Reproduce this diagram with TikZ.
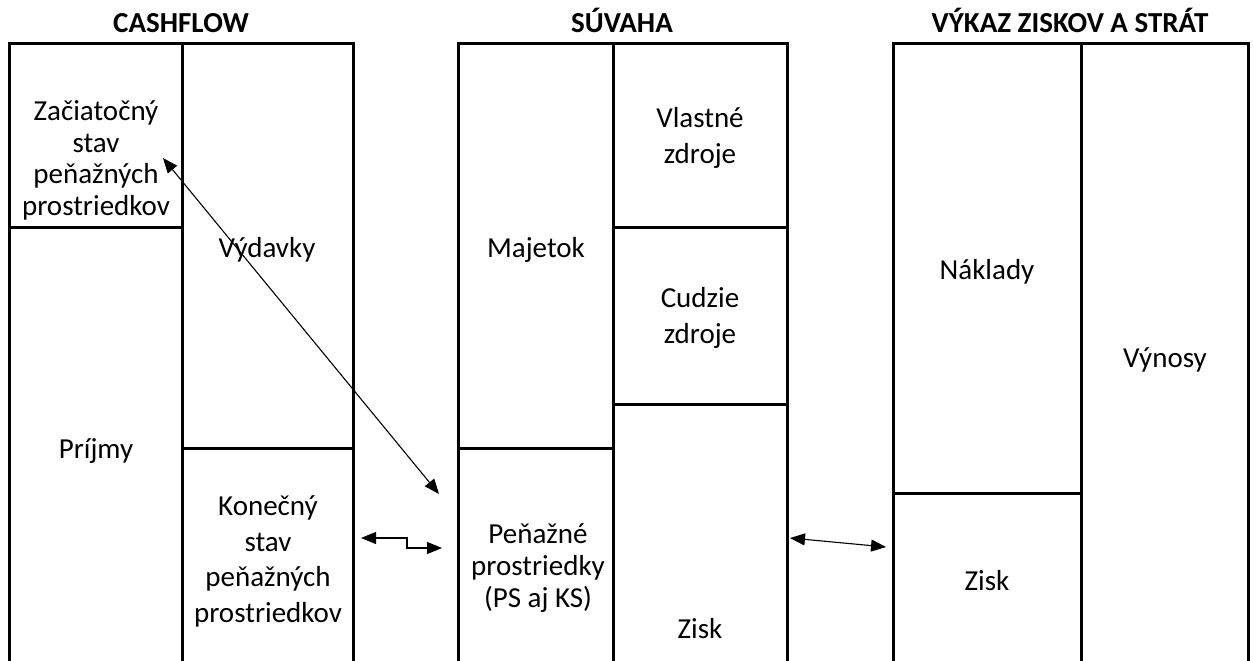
\documentclass[tikz,border=0pt]{standalone}
\usepackage{fontspec}
\setmainfont{Carlito}
\usetikzlibrary{arrows.meta}
\begin{document}
\begin{tikzpicture}[x=1pt,y=-1pt,
  cell/.style={line width=3pt},
  lbl/.style={font=\fontsize{29}{35.5}\selectfont, align=center, anchor=base, inner sep=0pt},
  tight/.style={font=\fontsize{29}{31.5}\selectfont},
  mid/.style={font=\fontsize{29}{32}\selectfont},
  ttl/.style={font=\fontsize{29}{35}\selectfont\bfseries, anchor=base, inner sep=0pt},
  link/.style={line width=1.1pt, {Triangle[length=15pt,width=12pt]}-{Triangle[length=15pt,width=12pt]}}]
\useasboundingbox (0,0) rectangle (1253,661);
\clip (0,0) rectangle (1253,661);
\fill[white] (0,0) rectangle (1253,661);
% CASHFLOW
\draw[cell] (9,700) -- (9,44) -- (353,44) -- (353,700);
\draw[cell] (182,44) -- (182,700);
\draw[cell] (9,227) -- (182,227);
\draw[cell] (182,448) -- (353,448);
% SUVAHA
\draw[cell] (458,700) -- (458,44) -- (787,44) -- (787,700);
\draw[cell] (613,44) -- (613,700);
\draw[cell] (458,448) -- (613,448);
\draw[cell] (613,227) -- (787,227);
\draw[cell] (613,404) -- (787,404);
% VZS
\draw[cell] (893,700) -- (893,44) -- (1248,44) -- (1248,700);
\draw[cell] (1081,44) -- (1081,700);
\draw[cell] (893,493) -- (1081,493);
% titles
\node[ttl] (tcf) at (181,33) {CASHFLOW};
\node[ttl] (tsu) at (622,33) {SÚVAHA};
\node[ttl] (tvz) at (1070,33) {VÝKAZ ZISKOV A STRÁT};
% texts (anchor = baseline of last line)
\node[lbl,tight] (zac) at (96,215) {Začiatočný\\stav\\peňažných\\prostriedkov};
\node[lbl] (vyd) at (267,257) {Výdavky};
\node[lbl] (prij) at (96,458) {Príjmy};
\node[lbl] (kon) at (268,622) {Konečný\\stav\\peňažných\\prostriedkov};
\node[lbl] (maj) at (536,257) {Majetok};
\node[lbl] (vz) at (700,163) {Vlastné\\zdroje};
\node[lbl] (cz) at (700,343) {Cudzie\\zdroje};
\node[lbl,mid] (pp) at (538,607) {Peňažné\\prostriedky\\(PS aj KS)};
\node[lbl] (zs) at (700,638) {Zisk};
\node[lbl] (nak) at (987,279) {Náklady};
\node[lbl] (vyn) at (1165,367) {Výnosy};
\node[lbl] (zv) at (987,590) {Zisk};
% connectors
\coordinate (a1s) at (163,158);
\coordinate (a1e) at (439,494);
\draw[link] (a1s) -- (a1e);
\coordinate (a2s) at (361,538);
\coordinate (a2e) at (442,548);
\draw[link] (a2s) -- ++(46,0) |- (a2e);
\coordinate (a3s) at (790,538);
\coordinate (a3e) at (886,547);
\draw[link] (a3s) -- (a3e);
\end{tikzpicture}
\end{document}
